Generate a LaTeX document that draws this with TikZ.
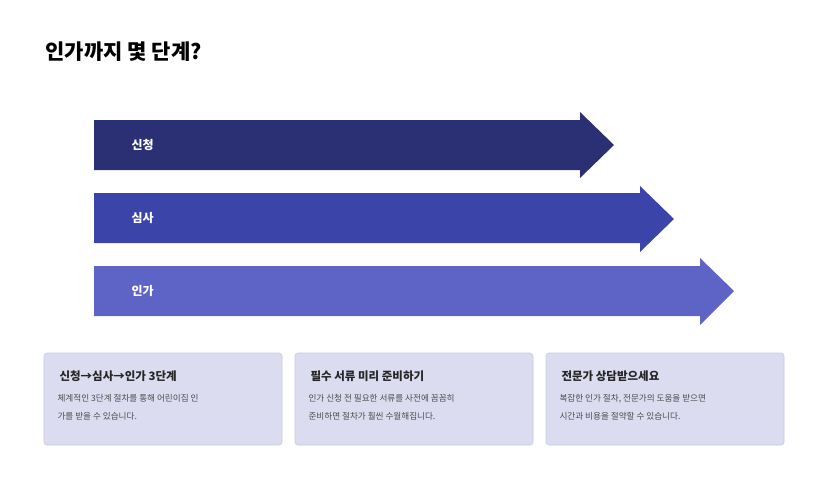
\documentclass[tikz,border=0pt]{standalone}
\usepackage{fontspec}
\setmainfont{Noto Sans CJK KR}
\newfontfamily\bold{Noto Sans CJK KR Bold}
\begin{document}
\begin{tikzpicture}[x=1pt,y=-1pt,
  card/.style={draw=cardline,fill=cardfill,rounded corners=3pt,line width=0.6pt},
  ctitle/.style={anchor=west,font=\bfseries\fontsize{11.5}{14}\selectfont,text=black!85},
  cbody/.style={anchor=north west,align=left,font=\fontsize{8.6}{18}\selectfont,text=black!70},
  alabel/.style={anchor=west,text=white,font=\bfseries\fontsize{12}{14}\selectfont}]
\definecolor{cA}{HTML}{2B2F73}\definecolor{cB}{HTML}{3B44A8}\definecolor{cC}{HTML}{5E64C6}
\definecolor{cardfill}{HTML}{DCDCF0}\definecolor{cardline}{HTML}{C8C8E4}
\useasboundingbox (0,0) rectangle (828,480);
\node[anchor=west,font=\bfseries\fontsize{21}{24}\selectfont] (title) at (42,52) {인가까지 몇 단계?};
\fill[cA] (94,120)--(580,120)--(580,112)--(614,145)--(580,178)--(580,170)--(94,170)--cycle;
\fill[cB] (94,193)--(640,193)--(640,186)--(674,219)--(640,252)--(640,243)--(94,243)--cycle;
\fill[cC] (94,266)--(700,266)--(700,258)--(734,291)--(700,325)--(700,316)--(94,316)--cycle;
\node[alabel] (a1) at (128,145) {신청};
\node[alabel] (a2) at (128,218) {심사};
\node[alabel] (a3) at (128,291) {인가};
\draw[card] (44,353) rectangle (282,445);
\draw[card] (295,353) rectangle (533,445);
\draw[card] (546,353) rectangle (784,445);
\node[ctitle] (t1) at (56,376) {신청→심사→인가 3단계};
\node[ctitle] (t2) at (307,376) {필수 서류 미리 준비하기};
\node[ctitle] (t3) at (558,376) {전문가 상담받으세요};
\node[cbody] (b1) at (54,391) {체계적인 3단계 절차를 통해 어린이집 인\\가를 받을 수 있습니다.};
\node[cbody] (b2) at (305,391) {인가 신청 전 필요한 서류를 사전에 꼼꼼히\\준비하면 절차가 훨씬 수월해집니다.};
\node[cbody] (b3) at (556,391) {복잡한 인가 절차, 전문가의 도움을 받으면\\시간과 비용을 절약할 수 있습니다.};
\end{tikzpicture}
\end{document}
